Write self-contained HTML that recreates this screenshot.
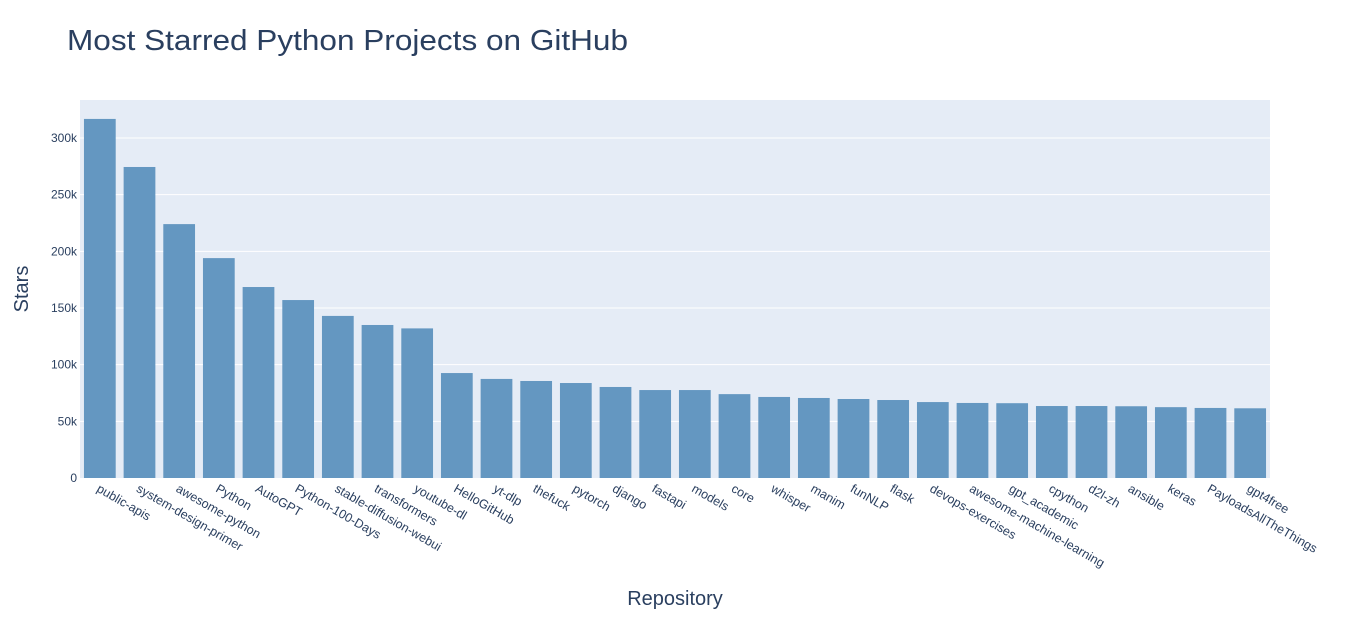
<!DOCTYPE html>
<html><head><meta charset="utf-8">
<style>
body{margin:0;background:#fff;font-family:"Liberation Sans",Arial,sans-serif;}
svg text{font-family:"Liberation Sans",Arial,sans-serif;fill:#2a3f5f;}
</style></head>
<body>
<svg id="chart" width="1350" height="617">
<rect x="0" y="0" width="1350" height="617" fill="#fff"/>
<text x="67" y="50" font-size="29" textLength="561" lengthAdjust="spacingAndGlyphs">Most Starred Python Projects on GitHub</text>
<rect x="80" y="100" width="1190" height="378" fill="#e5ecf6"/>
<g id="grid"></g>
<g id="bars"></g>
<g id="xlabels"></g>
<g id="ylabels"></g>
<text x="675" y="605" font-size="20" text-anchor="middle">Repository</text>
<text x="28" y="289" font-size="20" text-anchor="middle" transform="rotate(-90 28 289)">Stars</text>
</svg>
<script>
const categories=["public-apis","system-design-primer","awesome-python","Python","AutoGPT","Python-100-Days","stable-diffusion-webui","transformers","youtube-dl","HelloGitHub","yt-dlp","thefuck","pytorch","django","fastapi","models","core","whisper","manim","funNLP","flask","devops-exercises","awesome-machine-learning","gpt_academic","cpython","d2l-zh","ansible","keras","PayloadsAllTheThings","gpt4free"];
const stars=[316800,274400,224000,194000,168500,157000,143000,135000,132000,92600,87400,85600,83800,80300,77600,77600,74000,71500,70600,69700,68800,67000,66200,66000,63500,63500,63300,62500,61800,61500];
const yTicks=[0,50000,100000,150000,200000,250000,300000];
const yTickLabels=["0","50k","100k","150k","200k","250k","300k"];
const NS="http://www.w3.org/2000/svg";
const X0=80,X1=1270,Y0=478,Y1=100,YMAX=333500;
const band=(X1-X0)/categories.length;
const xs=i=>X0+band*(i+0.5);
const ys=v=>Y0-(v/YMAX)*(Y0-Y1);
function mk(t,a,p){const e=document.createElementNS(NS,t);for(const k in a)e.setAttribute(k,a[k]);p.appendChild(e);return e;}
const grid=document.getElementById('grid'),ylab=document.getElementById('ylabels');
yTicks.forEach((v,i)=>{
  if(v>0){const l=mk('line',{x1:X0,x2:X1,y1:ys(v),y2:ys(v),stroke:'#fff','stroke-width':1},grid);
  
  }
  const t=mk('text',{x:X0-3,y:ys(v)+4,'font-size':12,'text-anchor':'end'},ylab);
  t.textContent=yTickLabels[i];
  
  
});
const bars=document.getElementById('bars'),xl=document.getElementById('xlabels');
categories.forEach((c,i)=>{
  const w=band*0.8;
  const r=mk('rect',{x:xs(i)-w/2,y:ys(stars[i]),width:w,height:Y0-ys(stars[i]),fill:'#6497c1'},bars);
  
  
  const x=xs(i)-4,y=Y0+13;
  const t=mk('text',{x:x,y:y,'font-size':12.5,transform:`rotate(30 ${x} ${y})`},xl);
  t.textContent=c;
  
  
});
</script>
</body></html>
